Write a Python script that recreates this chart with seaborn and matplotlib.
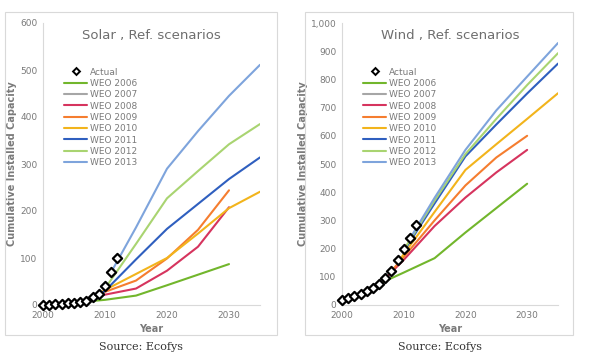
import matplotlib
matplotlib.use("Agg")
import matplotlib.pyplot as plt
import seaborn as sns
import pandas as pd
from matplotlib.lines import Line2D
from matplotlib.patches import Rectangle

# Actual installed capacity
actual_years = list(range(2000, 2013))
solar_actual = [1, 1, 2, 3, 4, 5, 7, 9, 16, 23, 40, 71, 101]
wind_actual = [17, 24, 31, 39, 48, 59, 74, 94, 119, 158, 198, 237, 284]

scenario_names = ["WEO 2006", "WEO 2007", "WEO 2008", "WEO 2009",
                  "WEO 2010", "WEO 2011", "WEO 2012", "WEO 2013"]
scenario_colors = ["#72b62c", "#a6a6a6", "#d6345e", "#f57d2f",
                   "#f2b41c", "#2f5fbf", "#a9d471", "#7ea4dc"]

# Solar, reference scenarios (year lists and values)
solar_years = {
    "WEO 2006": [2005, 2010, 2015, 2020, 2030],
    "WEO 2007": [2005, 2008],
    "WEO 2008": [2006, 2010, 2015, 2020, 2025, 2030],
    "WEO 2009": [2007, 2010, 2015, 2020, 2025, 2030],
    "WEO 2010": [2008, 2010, 2015, 2020, 2025, 2030, 2035],
    "WEO 2011": [2009, 2010, 2015, 2020, 2025, 2030, 2035],
    "WEO 2012": [2010, 2015, 2020, 2025, 2030, 2035],
    "WEO 2013": [2011, 2015, 2020, 2025, 2030, 2035],
}
solar_values = {
    "WEO 2006": [5, 11, 20, 42, 87],
    "WEO 2007": [5, 15],
    "WEO 2008": [7, 22, 35, 73, 124, 208],
    "WEO 2009": [10, 28, 52, 99, 160, 244],
    "WEO 2010": [15, 32, 66, 100, 152, 206, 241],
    "WEO 2011": [20, 30, 97, 162, 215, 268, 314],
    "WEO 2012": [35, 130, 227, 285, 342, 385],
    "WEO 2013": [70, 165, 290, 370, 445, 511],
}

# Wind, reference scenarios
wind_years = {
    "WEO 2006": [2004, 2007, 2010, 2015, 2020, 2030],
    "WEO 2007": [2005, 2007],
    "WEO 2008": [2007, 2010, 2015, 2020, 2025, 2030],
    "WEO 2009": [2008, 2010, 2015, 2020, 2025, 2030],
    "WEO 2010": [2009, 2015, 2020, 2025, 2030, 2035],
    "WEO 2011": [2010, 2015, 2020, 2025, 2030, 2035],
    "WEO 2012": [2010, 2015, 2020, 2025, 2030, 2035],
    "WEO 2013": [2011, 2015, 2020, 2025, 2030, 2035],
}
wind_values = {
    "WEO 2006": [48, 85, 115, 166, 257, 430],
    "WEO 2007": [59, 94],
    "WEO 2008": [94, 160, 280, 381, 470, 550],
    "WEO 2009": [120, 170, 300, 424, 523, 600],
    "WEO 2010": [150, 330, 479, 570, 660, 751],
    "WEO 2011": [190, 360, 527, 640, 750, 856],
    "WEO 2012": [195, 370, 535, 660, 780, 893],
    "WEO 2013": [235, 380, 550, 690, 810, 929],
}

sns.set_theme(style="white")
plt.rcParams["font.family"] = ["DejaVu Sans"]

fig = plt.figure(figsize=(5.98, 3.61), dpi=100)
W, H = 598, 361

def px_axes(x0, x1, y0, y1):
    return fig.add_axes([x0 / W, 1 - y1 / H, (x1 - x0) / W, (y1 - y0) / H])

grey = "#7a7a7a"
panels = [
    (px_axes(43, 260, 23, 305), "Solar , Ref. scenarios", solar_years, solar_values,
     solar_actual, 600, [0, 100, 200, 300, 400, 500, 600], "{:.0f}"),
    (px_axes(342, 558, 23, 305), "Wind , Ref. scenarios", wind_years, wind_values,
     wind_actual, 1000, list(range(0, 1001, 100)), "{:,.0f}"),
]

for ax, title, yrs, vals, act, ymax, yticks, fmt in panels:
    for name, color in zip(scenario_names, scenario_colors):
        df = pd.DataFrame({"year": yrs[name], "value": vals[name]})
        sns.lineplot(data=df, x="year", y="value", ax=ax, color=color, lw=1.5,
                     zorder=2)
    sns.scatterplot(x=actual_years, y=act, ax=ax, marker="D", s=22,
                    facecolor="white", edgecolor="black", linewidth=1.6,
                    zorder=5, clip_on=False)
    ax.set_xlim(2000, 2035)
    ax.set_ylim(0, ymax)
    ax.set_xticks([2000, 2010, 2020, 2030])
    ax.set_yticks(yticks)
    ax.set_yticklabels([fmt.format(v) for v in yticks])
    ax.tick_params(length=0, labelsize=6.5, colors=grey, pad=4)
    for s in ["top", "right"]:
        ax.spines[s].set_visible(False)
    for s in ["left", "bottom"]:
        ax.spines[s].set_color("#d9d9d9")
        ax.spines[s].set_linewidth(0.8)
    ax.set_facecolor("none")
    ax.set_xlabel("Year", fontsize=7, color=grey, fontweight="bold", labelpad=3)
    ax.set_ylabel("Cumulative Installed Capacity", fontsize=7, color=grey,
                  fontweight="bold", labelpad=2)
    ax.set_title(title, fontsize=9.5, color="#6e6e6e", y=0.915)

    handles = [Line2D([], [], ls="none", marker="D", ms=3.5, mfc="white",
                      mec="black", mew=1.4)]
    handles += [Line2D([], [], color=c, lw=1.5) for c in scenario_colors]
    leg = ax.legend(handles, ["Actual"] + scenario_names, loc="upper left",
                    bbox_to_anchor=(0.08, 0.855), frameon=False, fontsize=6.5,
                    handlelength=2.6, handletextpad=0.3, labelspacing=0.26,
                    borderaxespad=0)
    for t in leg.get_texts():
        t.set_color(grey)

# panel frames
for x0, x1 in [(5, 277), (305, 573)]:
    fig.patches.append(Rectangle((x0 / W, 1 - 335 / H), (x1 - x0) / W, (335 - 12) / H,
                                 transform=fig.transFigure, fill=False,
                                 edgecolor="#d9d9d9", lw=0.8))

fig.text(141 / W, 1 - 347 / H, "Source: Ecofys", ha="center", va="center",
         fontsize=8, color="#333333", family="DejaVu Serif")
fig.text(440 / W, 1 - 347 / H, "Source: Ecofys", ha="center", va="center",
         fontsize=8, color="#333333", family="DejaVu Serif")

fig.savefig("out.png", dpi=100)
